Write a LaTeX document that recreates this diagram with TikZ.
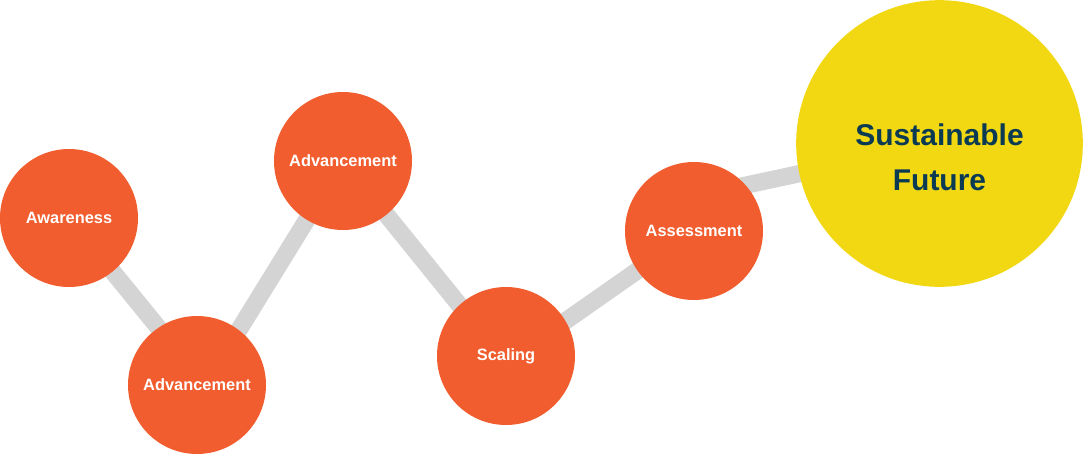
\documentclass[tikz,border=0pt]{standalone}
\usepackage{fontspec}
\setmainfont{Liberation Sans}
\usetikzlibrary{positioning,calc,backgrounds}
\definecolor{stageC}{HTML}{F15D2E}
\definecolor{goalC}{HTML}{F2D813}
\definecolor{goalText}{HTML}{0B3A53}
\definecolor{linkC}{HTML}{D4D4D4}

\begin{document}
\begin{tikzpicture}[x=0.75pt,y=-0.75pt,
 stage/.style={circle, fill=stageC, minimum size=103.5pt, inner sep=0pt, text=white, font=\bfseries\fontsize{12.3}{14}\selectfont},
 goal/.style={circle, fill=goalC, minimum size=215pt, inner sep=0pt},
 goaltext/.style={text=goalText, align=center, font=\bfseries\fontsize{22.5}{33.7}\selectfont},
 link/.style={linkC, line width=13pt},
]
 \useasboundingbox (0,0) rectangle (1083,454);
 % stages along the path
 \node[stage] (aw) at (69,218) {Awareness};
 \node[stage] (adv1) at (197,385) {Advancement};
 \node[stage] (adv2) at (343,161) {Advancement};
 \node[stage] (sc) at (506,356) {Scaling};
 \node[stage] (as) at (694,231) {Assessment};
 \node[goal] (sf) at (939.5,143.5) {};
 \node[goaltext] (sft) at ([yshift=-10.5pt]sf.center) {Sustainable\\Future};
 % connectors behind the circles
 \begin{scope}[on background layer]
  \draw[link] (aw.center) -- ([xshift=6pt]adv1.center) -- (adv2.center) -- ([yshift=-5pt]sc.center) -- (as.center);
  \draw[link] ([yshift=26pt]as.center) -- (sf.center);
 \end{scope}
\end{tikzpicture}
\end{document}
